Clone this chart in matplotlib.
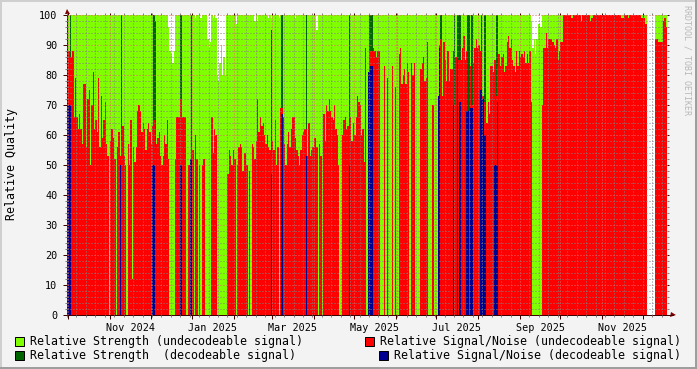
import datetime as dt
import numpy as np
import matplotlib
matplotlib.use("Agg")
import matplotlib.pyplot as plt
import matplotlib.dates as mdates
from matplotlib.patches import Rectangle
from matplotlib.ticker import MultipleLocator, NullFormatter

#############################
# # # # #  D A T A  # # # # #
#############################
# one value per day, starting at start_day
start_day = dt.date(2024, 9, 30)

sn_part1 = [91, 88, 86, 86, 88, 66, 79, 66, 62, 67, 62, 57, 77, 77, 56, 72, 75, 50, 70, 81,
            62, 65, 61, 79, 56, 73, 59, 65, 71, 57, 53, 0, 58, 62, 59, 52, 0, 56, 61, 53,
            58, 63, 53, 50, 0, 57, 50, 65, 12, 56, 51, 56, 68, 70, 68, 61, 64, 62, 55, 62,
            64, 61, 57, 63, 65, 55, 57, 59, 61, 53, 50, 53, 60, 57]
sn_part2 = [65, 52, 0, 0, 0, 0, 52, 66, 66, 66, 72, 66, 66, 66, 0, 0, 50, 52, 56, 55,
            0, 60, 52, 0, 50, 0, 50, 52, 0, 0, 0, 0, 0, 66, 54, 62, 60, 0, 0, 0,
            0, 0, 0, 0, 0, 47, 55, 53, 50, 55, 52, 0, 50, 56, 57, 56, 48, 54, 54, 50,
            0, 48, 0, 57, 56, 52, 58, 72, 61, 66, 63, 64, 60, 57, 60]
sn_part3 = [56, 55, 53, 58, 55, 65, 50, 56, 0, 69, 69, 66, 57, 50, 57, 61, 56, 62, 66, 66,
            59, 55, 53, 50, 55, 60, 61, 62, 62, 53, 64, 53, 55, 56, 59, 59, 56, 0, 57, 53,
            0, 67, 58, 70, 68, 72, 68, 66, 65, 70, 62, 60, 50, 0, 0, 60, 65, 66, 62, 63,
            62, 66, 58, 64, 60, 66, 73, 71, 70, 60, 62, 51, 89, 0]
sn_part4 = [81, 88, 88, 88, 89, 88, 86, 88, 88, 0, 0, 0, 83, 0, 79, 0, 0, 0, 83, 0,
            76, 0, 0, 87, 89, 77, 80, 82, 77, 84, 81, 0, 84, 80, 84, 0, 0, 0, 0, 82,
            84, 86, 78, 79, 91, 0, 0, 0, 70, 0, 0, 0, 73, 90, 92, 73, 91, 85, 78, 88,
            78, 82, 82, 88, 70, 86, 85, 85, 85, 85, 89, 93, 85]
sn_part5 = [88, 68, 68, 83, 70, 84, 89, 92, 89, 90, 88, 75, 73, 71, 66, 64, 71, 67, 83, 83,
            81, 85, 73, 83, 87, 83, 86, 87, 81, 83, 91, 93, 89, 92, 85, 83, 81, 88, 83, 88,
            86, 87, 86, 88, 84, 87, 84, 88, 71, 0, 0, 0, 0, 0, 0, 0, 70, 89, 89, 94,
            89, 92, 92, 92, 91, 90, 89, 92, 85, 88, 91, 91]
sn_part6 = [100] * 62                  # pegged at the top, notches in sn_dip_*
sn_part7 = [0] * 6                     # no data at all
sn_part8 = [92, 92, 91, 91, 91, 91, 98, 99, 96]

sn_dip_days = [374, 381, 388, 389, 411, 412, 416, 426, 428, 429]
sn_dip_vals = [99, 98, 98, 99, 99, 99, 99, 99, 99, 97]

# strength is 100 unless listed here
strength_dip_days = [75, 76, 77, 78, 79, 95, 99, 104, 105, 106, 108, 110, 111, 112, 113, 114, 115, 116, 117,
                     125, 139, 141, 149, 151, 157, 169, 185, 344, 345, 346, 347, 348, 349, 350, 351,
                     430, 431, 432, 433, 434, 435]
strength_dip_vals = [96, 88, 87, 84, 88, 99, 99, 92, 89, 91, 99, 99, 80, 78, 84, 90, 80, 86, 80,
                     97, 98, 98, 99, 99, 99, 99, 95, 98, 89, 92, 87, 92, 97, 97, 96,
                     0, 0, 0, 0, 0, 0]

# decodeable signal
dec_strength_days = [0, 2, 40, 64, 65, 84, 92, 151, 159, 177, 209, 224, 225, 226, 277, 287, 289, 290, 291,
                     297, 298, 300, 307, 309, 310, 318, 319]
dec_strength_vals = [100, 100, 100, 100, 98, 100, 100, 95, 100, 100, 100, 100, 100, 100, 100, 100, 100, 100, 100,
                     100, 100, 100, 100, 100, 100, 100, 100]
dec_sn_days = [1, 2, 39, 63, 64, 84, 91, 92, 151, 159, 177, 209, 223, 224, 225, 226, 275, 276, 286, 289, 291,
               296, 297, 299, 300, 306, 307, 308, 309, 310, 317, 318, 319]
dec_sn_vals = [70, 70, 50, 50, 50, 50, 52, 52, 47, 67, 53, 50, 81, 81, 83, 83, 73, 89, 70, 85, 71,
               68, 68, 69, 69, 75, 75, 72, 60, 60, 50, 50, 71]

month_labels = ["Nov 2024", "Jan 2025", "Mar 2025", "May 2025", "Jul 2025", "Sep 2025", "Nov 2025"]
month_label_days = [dt.date(2024, 11, 16), dt.date(2025, 1, 16), dt.date(2025, 3, 16), dt.date(2025, 5, 16),
                    dt.date(2025, 7, 16), dt.date(2025, 9, 16), dt.date(2025, 11, 16)]

##---------------------------##
##--------- STYLES ----------##
##---------------------------##
LIME = "#80ff00"
DARK = "#006400"
RED = "#ff0000"
BLUE = "#000090"
W, H = 697, 369
MONO = "DejaVu Sans Mono"

sn = np.array(sn_part1 + sn_part2 + sn_part3 + sn_part4 + sn_part5 + sn_part6 + sn_part7 + sn_part8, dtype=float)
sn[sn_dip_days] = sn_dip_vals
strength = np.full(len(sn), 100.0)
strength[strength_dip_days] = strength_dip_vals

day0 = mdates.date2num(start_day)
days = day0 + np.arange(len(sn))

fig = plt.figure(figsize=(W / 100, H / 100), dpi=100, facecolor="#f3f3f3")
ax = fig.add_axes([67 / W, 1 - 315 / H, 600 / W, 300 / H])
ax.set_facecolor("white")

bar_args = dict(width=1, align="edge", linewidth=0, antialiased=False)
ax.bar(days, strength, color=LIME, **bar_args)
ax.bar(day0 + np.array(dec_strength_days), dec_strength_vals, color=DARK, **bar_args)
ax.bar(days, sn, color=RED, **bar_args)
ax.bar(day0 + np.array(dec_sn_days), dec_sn_vals, color=BLUE, **bar_args)

ax.set_xlim(day0, day0 + 445)
ax.set_ylim(0, 100)

ax.xaxis.set_major_locator(mdates.MonthLocator())
ax.xaxis.set_minor_locator(mdates.WeekdayLocator(byweekday=mdates.MO))
ax.xaxis.set_major_formatter(NullFormatter())
ax.yaxis.set_major_locator(MultipleLocator(10))
ax.yaxis.set_minor_locator(MultipleLocator(2))

# grid over the bars, rrdtool style
ax.set_axisbelow(False)
ax.grid(which="minor", color=(0.5, 0.5, 0.5, 0.16), lw=0.72, ls=(0, (1, 2)))
ax.grid(which="major", color=(0.9, 0.4, 0.4, 0.38), lw=0.72, ls=(0, (1, 2)))

ax.tick_params(which="major", length=3, width=0.72, color="#400000", pad=4, top=True, right=True)
ax.tick_params(which="minor", length=1.5, width=0.72, color="#808080", top=True, right=True)
for axis in (ax.xaxis, ax.yaxis):
    for tick in axis.get_major_ticks():
        tick.tick2line.set_color("#e8a0a0")
        tick.tick2line.set_markersize(1.5)
    for tick in axis.get_minor_ticks():
        tick.tick2line.set_color("#c8c8c8")
ax.tick_params(axis="y", labelsize=7.3, labelfontfamily=MONO, labelcolor="black")

for s in ("top", "right"):
    ax.spines[s].set_visible(False)
for s in ("left", "bottom"):
    ax.spines[s].set_color("#400000")
    ax.spines[s].set_linewidth(0.72)

# labels sit in the middle of their month
for label, day in zip(month_labels, month_label_days):
    ax.annotate(label, (mdates.date2num(day), 0), xycoords=("data", "axes fraction"), xytext=(0, -5.6),
                textcoords="offset points", ha="center", va="top", fontsize=7.3, family=MONO)

# axis arrows
ax.plot(1 + 6 / 600, 0, ">", transform=ax.transAxes, clip_on=False, color="#7f0000", ms=3.6, mew=0)
ax.plot(0, 1 + 4 / 300, "^", transform=ax.transAxes, clip_on=False, color="#7f0000", ms=3.6, mew=0)
ax.plot([1, 1 + 6 / 600], [0, 0], transform=ax.transAxes, clip_on=False, color="#400000", lw=0.72)

fig.text(12 / W, 1 - 164.5 / H, "Relative Quality", rotation=90, ha="center", va="center", fontsize=8.4, family=MONO)
fig.text(687 / W, 1 - 5 / H, "RRDTOOL / TOBI OETIKER", rotation=-90, ha="center", va="top", fontsize=6,
         family=MONO, color="#b8b8b8")

##---------------------------##
##--------- LEGEND ----------##
##---------------------------##
legend_rows = [
    (15, 337, LIME, 30, "Relative Strength (undecodeable signal)"),
    (15, 351, DARK, 30, "Relative Strength  (decodeable signal)"),
    (365, 337, RED, 380, "Relative Signal/Noise (undecodeable signal)"),
    (379, 351, BLUE, 394, "Relative Signal/Noise (decodeable signal)"),
]
for box_x, box_y, color, text_x, text in legend_rows:
    fig.add_artist(Rectangle((box_x / W, 1 - (box_y + 9) / H), 9 / W, 9 / H, transform=fig.transFigure,
                             facecolor=color, edgecolor="black", lw=0.72))
    fig.text(text_x / W, 1 - (box_y + 4.5) / H, text, ha="left", va="center", fontsize=8.4, family=MONO)

# raised frame round the canvas
for x0, y0, w, h, color in [(0, 0, W, 2, "#cfcfcf"), (0, 0, 2, H, "#cfcfcf"),
                            (0, H - 2, W, 2, "#9e9e9e"), (W - 2, 0, 2, H, "#9e9e9e")]:
    fig.add_artist(Rectangle((x0 / W, 1 - (y0 + h) / H), w / W, h / H, transform=fig.transFigure,
                             facecolor=color, edgecolor="none"))

fig.savefig("out.png", dpi=100, facecolor=fig.get_facecolor())
